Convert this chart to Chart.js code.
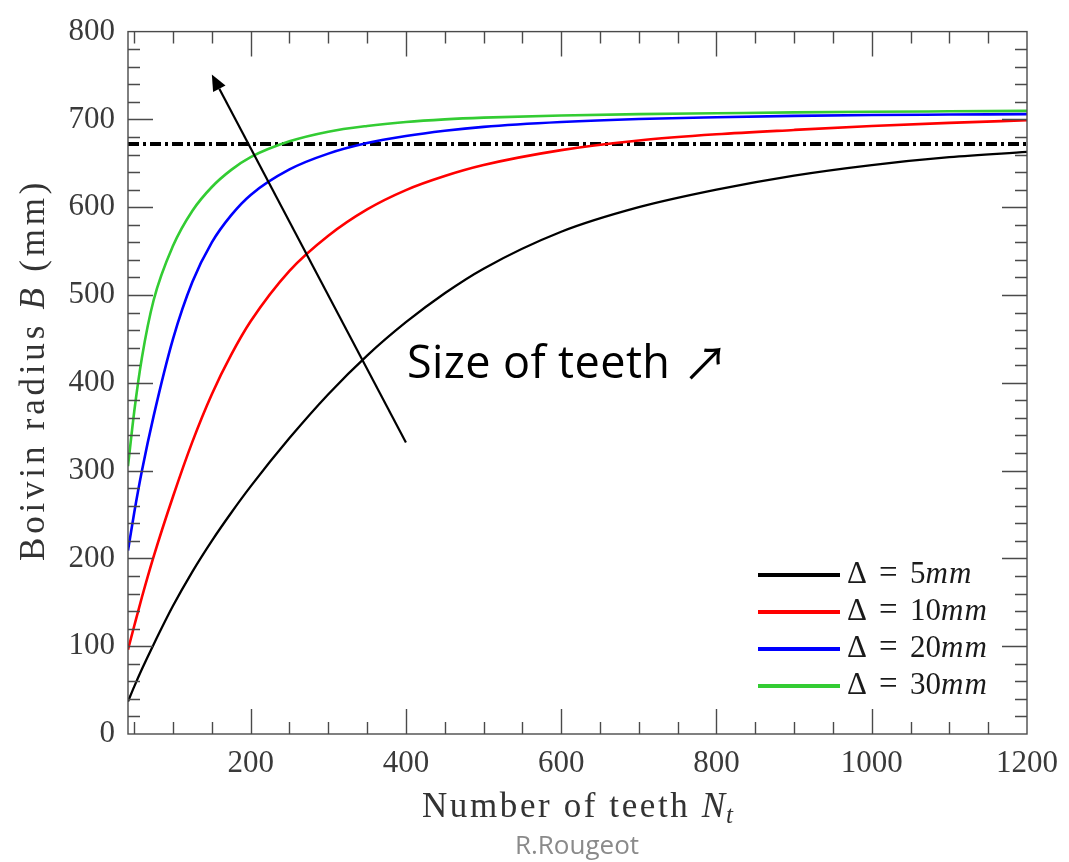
<!DOCTYPE html>
<html>
<head>
<meta charset="utf-8">
<script src="https://cdn.jsdelivr.net/npm/chart.js@4/dist/chart.umd.min.js"></script>
<style>
  html, body { margin: 0; padding: 0; background: #ffffff; }
  #wrap { width: 1069px; height: 862px; }
</style>
</head>
<body>
<div id="wrap"><canvas id="chart" width="1069" height="862"></canvas></div>
<script>
// Number of teeth N_t (shared abscissa for every curve)
const teeth = [42, 50, 60, 75, 100, 125, 150, 175, 200, 250, 300, 350, 400, 450, 500, 600, 700, 800, 900, 1000, 1100, 1200];

// Boivin radius B (mm) for each tooth size
const radius5  = [37, 54, 74, 102, 146, 185, 220, 252, 282, 337, 387, 431, 469, 502, 530, 572, 600, 620, 636, 648, 657, 663];
const radius10 = [96, 123, 156, 202, 270.5, 333, 387, 432, 470, 527.5, 567.5, 597.5, 619.5, 635.5, 648, 665, 676, 683, 688, 692.5, 696, 699];
const radius20 = [209, 252, 300, 362, 450, 515, 560, 591, 614, 643, 661, 673, 681, 687, 691.5, 697, 700.5, 702.5, 704, 705, 705.5, 706];
const radius30 = [305, 367, 429, 494, 556, 596, 623, 642.5, 657, 675, 686, 692.5, 697, 700, 702, 704.5, 706, 707, 708, 708.7, 709.2, 709.7];

// Horizontal reference radius (dash-dot line)
const limitRadius = 672;

// Tooth sizes (mm) shown in the legend
const toothSizes = ['5', '10', '20', '30'];

// Axis tick values
const xTickValues = [200, 400, 600, 800, 1000, 1200];
const yTickValues = [0, 100, 200, 300, 400, 500, 600, 700, 800];

// Annotation arrow (data coordinates: tail then head) and its caption anchor
const arrowTail = [400, 332];
const arrowHead = [150, 751];
const captionAnchor = [400, 405];

const X_MIN = 42, X_MAX = 1200, Y_MIN = 0, Y_MAX = 800;
const colors = ['#000000', '#ff0000', '#0000ff', '#33cc33'];
const widths = [2.3, 2.6, 2.6, 2.6];
const seriesValues = [radius5, radius10, radius20, radius30];

const pts = arr => teeth.map((n, i) => ({ x: n, y: arr[i] }));

const datasets = seriesValues.map((vals, i) => ({
  label: '\u0394 = ' + toothSizes[i] + 'mm',
  data: pts(vals),
  borderColor: colors[i],
  borderWidth: widths[i],
  pointRadius: 0,
  fill: false,
  cubicInterpolationMode: 'monotone'
}));
datasets.push({
  label: 'limit',
  data: [{ x: X_MIN, y: limitRadius }, { x: X_MAX, y: limitRadius }],
  borderColor: '#000000',
  borderWidth: 4.2,
  borderDash: [11, 4, 3, 4],
  pointRadius: 0,
  fill: false
});

const SERIF = '"Liberation Serif", "Times New Roman", serif';

// Draw a sequence of differently styled text runs on one baseline
function drawRuns(ctx, runs, x, y, align) {
  let total = 0;
  const w = runs.map(r => { ctx.font = r.font; ctx.letterSpacing = r.ls || '0px'; const m = ctx.measureText(r.text).width; total += m + (r.gap || 0); return m; });
  let cx = align === 'center' ? x - total / 2 : x;
  runs.forEach((r, i) => {
    ctx.font = r.font;
    ctx.letterSpacing = r.ls || '0px';
    ctx.fillText(r.text, cx, y + (r.dy || 0));
    cx += w[i] + (r.gap || 0);
  });
  ctx.letterSpacing = '0px';
}

const decorations = {
  id: 'decorations',
  afterDatasetsDraw(chart) {
    const { ctx, chartArea: a, scales: { x, y } } = chart;
    ctx.save();

    // frame
    ctx.strokeStyle = '#4a4a4a';
    ctx.lineWidth = 1.4;
    ctx.strokeRect(a.left, a.top, a.right - a.left, a.bottom - a.top);

    // inward ticks on all four sides
    const MAJ = 25, MIN = 12;
    ctx.beginPath();
    for (let v = 50; v < X_MAX; v += 50) {
      if (v < X_MIN) continue;
      const len = v % 200 === 0 ? MAJ : MIN;
      const px = Math.round(x.getPixelForValue(v)) + 0.5;
      ctx.moveTo(px, a.bottom); ctx.lineTo(px, a.bottom - len);
      ctx.moveTo(px, a.top); ctx.lineTo(px, a.top + len);
    }
    for (let v = 20; v < Y_MAX; v += 20) {
      const len = v % 100 === 0 ? MAJ : MIN;
      const py = Math.round(y.getPixelForValue(v)) + 0.5;
      ctx.moveTo(a.left, py); ctx.lineTo(a.left + len, py);
      ctx.moveTo(a.right, py); ctx.lineTo(a.right - len, py);
    }
    ctx.stroke();

    // annotation arrow
    const tx = x.getPixelForValue(arrowTail[0]), ty = y.getPixelForValue(arrowTail[1]);
    const hx = x.getPixelForValue(arrowHead[0]), hy = y.getPixelForValue(arrowHead[1]);
    const ang = Math.atan2(hy - ty, hx - tx);
    const headLen = 16, headHalf = 7;
    const bx = hx - headLen * Math.cos(ang), by = hy - headLen * Math.sin(ang);
    ctx.strokeStyle = '#000000';
    ctx.lineWidth = 2.2;
    ctx.beginPath(); ctx.moveTo(tx, ty); ctx.lineTo(bx, by); ctx.stroke();
    ctx.fillStyle = '#000000';
    ctx.beginPath();
    ctx.moveTo(hx, hy);
    ctx.lineTo(bx + headHalf * Math.sin(ang), by - headHalf * Math.cos(ang));
    ctx.lineTo(bx - headHalf * Math.sin(ang), by + headHalf * Math.cos(ang));
    ctx.closePath(); ctx.fill();

    // caption
    ctx.textBaseline = 'alphabetic';
    ctx.textAlign = 'left';
    drawRuns(ctx, [
      { text: 'Size of teeth ', font: '45px "Open Sans", sans-serif', ls: '0.4px' },
      { text: '\u2197', font: '46px "Noto Sans CJK SC", "DejaVu Sans", sans-serif', dy: 2 }
    ], x.getPixelForValue(captionAnchor[0]) + 1, y.getPixelForValue(captionAnchor[1]), 'left');

    // legend
    const lx0 = a.right - 269, lx1 = a.right - 187, tx0 = a.right - 180;
    seriesValues.forEach((_, i) => {
      const ly = a.bottom - 159 + 37 * i;
      ctx.strokeStyle = colors[i];
      ctx.lineWidth = 4;
      ctx.beginPath(); ctx.moveTo(lx0, ly); ctx.lineTo(lx1, ly); ctx.stroke();
      ctx.fillStyle = '#1a1a1a';
      ctx.font = '31px ' + SERIF;
      ctx.fillText('\u0394', tx0, ly + 8);
      ctx.font = '33px ' + SERIF;
      ctx.fillText('=', tx0 + 32, ly + 8);
      drawRuns(ctx, [
        { text: toothSizes[i], font: '31px ' + SERIF },
        { text: 'mm', font: 'italic 31px ' + SERIF, ls: '1px' }
      ], tx0 + 63, ly + 8, 'left');
    });
    ctx.restore();
  },
  afterDraw(chart) {
    const { ctx, chartArea: a } = chart;
    ctx.save();
    ctx.fillStyle = '#333333';
    ctx.textBaseline = 'alphabetic';
    ctx.textAlign = 'left';

    // x-axis title
    drawRuns(ctx, [
      { text: 'Number of teeth ', font: '35px ' + SERIF, ls: '2.6px' },
      { text: 'N', font: 'italic 35px ' + SERIF, ls: '1px' },
      { text: 't', font: 'italic 25px ' + SERIF, dy: 6 }
    ], (a.left + a.right) / 2, 817, 'center');

    // y-axis title (rotated)
    ctx.translate(44, (a.top + a.bottom) / 2 - 13);
    ctx.rotate(-Math.PI / 2);
    drawRuns(ctx, [
      { text: 'Boivin radius ', font: '35px ' + SERIF, ls: '3.8px' },
      { text: 'B', font: 'italic 35px ' + SERIF, ls: '3.8px' },
      { text: ' (mm)', font: '35px ' + SERIF, ls: '3.8px' }
    ], 0, 0, 'center');
    ctx.setTransform(1, 0, 0, 1, 0, 0);

    // credit line
    ctx.fillStyle = '#8a8a8a';
    ctx.font = '26px "Open Sans", sans-serif';
    ctx.textAlign = 'center';
    ctx.fillText('R.Rougeot', 577, 854);
    ctx.restore();
  }
};

new Chart(document.getElementById('chart'), {
  type: 'line',
  data: { datasets },
  options: {
    responsive: false,
    animation: false,
    devicePixelRatio: 1,
    layout: { padding: { top: 25, right: 39, left: 0, bottom: 0 } },
    plugins: { legend: { display: false }, tooltip: { enabled: false } },
    scales: {
      x: {
        type: 'linear', min: X_MIN, max: X_MAX,
        afterBuildTicks: s => { s.ticks = xTickValues.map(v => ({ value: v })); },
        afterFit: s => { s.height = 128; },
        grid: { display: false, drawTicks: false },
        border: { display: false },
        ticks: {
          padding: 11, autoSkip: false, maxRotation: 0,
          color: '#3a3a3a', font: { family: 'Liberation Serif', size: 31 },
          callback: v => String(v)
        }
      },
      y: {
        type: 'linear', min: Y_MIN, max: Y_MAX,
        afterBuildTicks: s => { s.ticks = yTickValues.map(v => ({ value: v })); },
        afterFit: s => { s.width = 128; },
        grid: { display: false, drawTicks: false },
        border: { display: false },
        ticks: {
          padding: 13, autoSkip: false,
          color: '#3a3a3a', font: { family: 'Liberation Serif', size: 31 },
          callback: v => String(v)
        }
      }
    }
  },
  plugins: [decorations]
});
</script>
</body>
</html>
